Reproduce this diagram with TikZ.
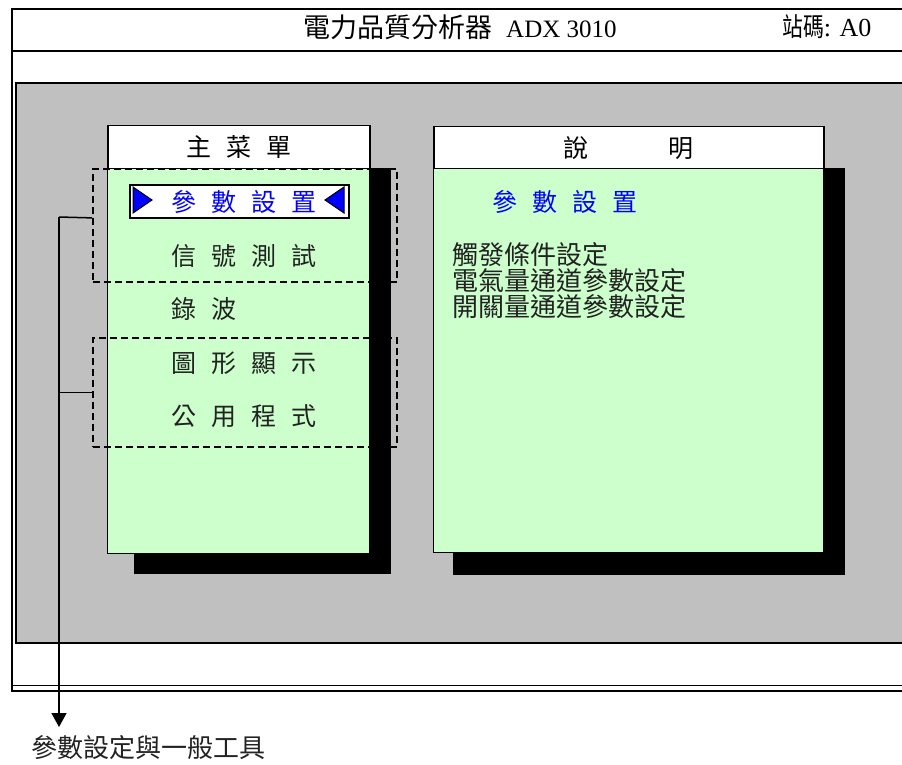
\documentclass[tikz,border=0pt]{standalone}
\usepackage{fontspec}
\setmainfont{Liberation Serif}
\newfontfamily\cjk{Noto Sans CJK TC}
\usetikzlibrary{arrows.meta}
\definecolor{panelgray}{HTML}{C0C0C0}
\definecolor{menugreen}{HTML}{CCFFCC}
\definecolor{selblue}{HTML}{0000FF}
\definecolor{itemtext}{HTML}{222222}
\newcommand\gapp{\hspace{15pt}}
\tikzset{
  hdrbox/.style={draw=black, line width=1.5pt, fill=white, anchor=north west, inner sep=0pt,
    font=\cjk\fontsize{25}{25}\selectfont},
  bodybox/.style={draw=black, line width=1.2pt, fill=menugreen, anchor=north west, inner sep=0pt},
  shadowbox/.style={fill=black},
  grpbox/.style={draw=black, line width=1.8pt, dash pattern=on 7pt off 4pt, anchor=north west, inner sep=0pt},
  itemtxt/.style={anchor=west, inner sep=0pt, text=itemtext, font=\cjk\fontsize{25}{25}\selectfont},
  bluetxt/.style={anchor=west, inner sep=0pt, text=selblue, font=\cjk\fontsize{25}{25}\selectfont},
  desctxt/.style={anchor=north west, inner sep=0pt, align=left, text=itemtext, font=\cjk\fontsize{26}{26}\selectfont},
  conn/.style={draw=black, line width=1.5pt},
  seltri/.style={fill=selblue, draw=black, line width=1pt}
}
\begin{document}
\begin{tikzpicture}[x=1pt,y=-1pt]
\useasboundingbox (0,0) rectangle (902,765);
\begin{scope}
\clip (0,0) rectangle (902,765);
% outer frame
\draw[line width=2.2pt] (930,9) -- (12,9) -- (12,691) -- (930,691);
\draw[line width=1pt] (12,685) -- (930,685);
\draw[line width=1.5pt] (12,51) -- (930,51);
% gray panel
\fill[panelgray] (16,83) rectangle (930,643);
\draw[line width=1.3pt] (930,83) -- (16,83) -- (16,643) -- (930,643);
\end{scope}

% title bar texts
\node[anchor=west, inner sep=0pt] (title) at (303,27)
  {{\cjk\fontsize{27}{27}\selectfont 電力品質分析器}\hspace{14pt}{\fontsize{25}{25}\selectfont ADX 3010}};
\node[anchor=west, inner sep=0pt] (station) at (782,27)
  {{\cjk\fontsize{26}{26}\selectfont\scalebox{0.8}[1]{站碼}}{\fontsize{26}{26}\selectfont: A0}};

% shadows
\fill[shadowbox] (134,168) rectangle (391,574);
\fill[shadowbox] (453,168) rectangle (845,575);

% main menu
\node[hdrbox, minimum width=262pt, minimum height=43pt] (mhead) at (107,125) {主\gapp 菜\gapp 單};
\node[bodybox, minimum width=262pt, minimum height=385pt] (mbody) at (107,168) {};

% description
\node[hdrbox, minimum width=390pt, minimum height=42pt] (dhead) at (433,126) {說\hspace{80pt}明};
\node[bodybox, minimum width=390pt, minimum height=384pt] (dbody) at (433,168) {};

% selected item
\node[draw=black, line width=2pt, fill=white, anchor=north west, inner sep=0pt,
  minimum width=219pt, minimum height=33pt] (sel) at (129,184) {};
\fill[seltri] (133,187) -- (152,200) -- (133,213) -- cycle;
\fill[seltri] (344,187) -- (325,200) -- (344,213) -- cycle;
\node[bluetxt] (it1) at (171,202) {參\gapp 數\gapp 設\gapp 置};

% menu items
\node[itemtxt] (it2) at (171,256) {信\gapp 號\gapp 測\gapp 試};
\node[itemtxt] (it3) at (171,309) {錄\gapp 波};
\node[itemtxt] (it4) at (171,363) {圖\gapp 形\gapp 顯\gapp 示};
\node[itemtxt] (it5) at (171,416) {公\gapp 用\gapp 程\gapp 式};

% description contents
\node[bluetxt] (dtitle) at (492,202) {參\gapp 數\gapp 設\gapp 置};
\node[desctxt] (dlines) at (452,242) {觸發條件設定\\電氣量通道參數設定\\開關量通道參數設定};

% dashed groups
\node[grpbox, minimum width=304pt, minimum height=113pt] (g1) at (92,168) {};
\node[grpbox, minimum width=304pt, minimum height=109pt] (g2) at (92,337) {};

% connectors
\coordinate (b1) at (59,217);
\coordinate (tip) at (59,727);
\node[anchor=west, inner sep=0pt, text=itemtext, font=\cjk\fontsize{26}{26}\selectfont] (lab) at (31,748) {參數設定與一般工具};
\draw[conn] ([yshift=7.5pt]g1.west) -- (b1);
\draw[conn] (g2.west) -- (g2.west -| b1);
\draw[conn, -{Triangle[width=15pt,length=14pt]}] (b1) -- (tip);
\end{tikzpicture}
\end{document}
